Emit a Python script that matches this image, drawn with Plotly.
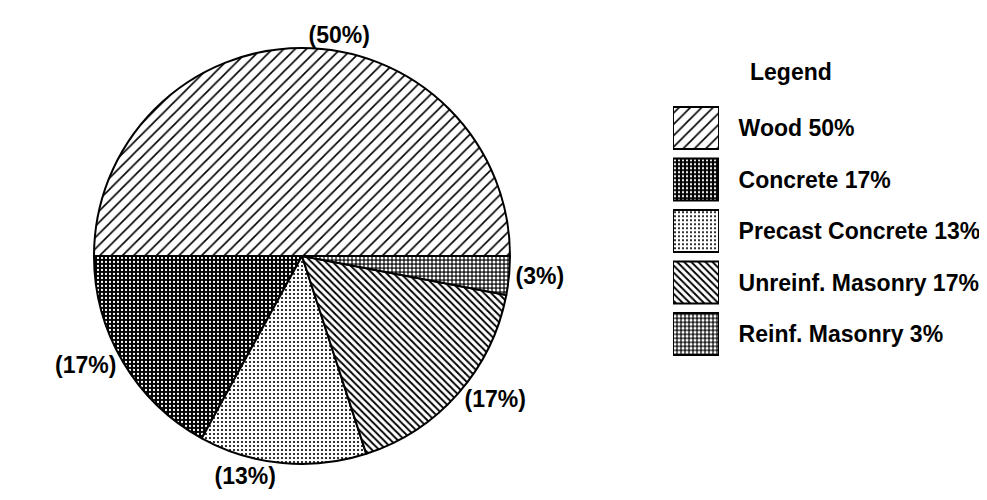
import plotly.graph_objects as go

# ---- data ----
categories = ["Wood", "Concrete", "Precast Concrete", "Unreinf. Masonry", "Reinf. Masonry"]
shares = [50, 17, 13, 17, 3]
legend_labels = [f"{c} {v}%" for c, v in zip(categories, shares)]

# ---- styles (hatch patterns) ----
pat_shape = ["/", ".", ".", "\\", "."]
pat_fg = ["black", "white", "black", "black", "white"]
pat_bg = ["white", "black", "white", "white", "#222222"]
pat_size = [8, 4, 4, 5, 4]
pat_solid = [0.2, 0.25, 0.22, 0.38, 0.45]

FONT = "Liberation Sans, Arial, sans-serif"

fig = go.Figure()

fig.add_trace(go.Pie(
    labels=categories,
    values=shares,
    sort=False,
    direction="counterclockwise",
    rotation=-90,
    textposition="outside",
    texttemplate="<b>(%{percent:.0%})</b>",
    textfont=dict(family=FONT, size=23, color="black"),
    marker=dict(
        colors=["white"] * len(categories),
        line=dict(color="black", width=2),
        pattern=dict(shape=pat_shape, fgcolor=pat_fg, bgcolor=pat_bg,
                     size=pat_size, solidity=pat_solid, fillmode="replace"),
    ),
    domain=dict(x=[86 / 987, 502 / 987], y=[0, 1]),
    showlegend=False,
    hoverinfo="label+percent",
))

# legend drawn as patterned boxes
fig.add_trace(go.Bar(
    x=[1] * len(categories),
    y=legend_labels,
    orientation="h",
    xaxis="x2",
    yaxis="y2",
    marker=dict(
        color="white",
        line=dict(color="black", width=2),
        pattern=dict(shape=pat_shape, fgcolor=pat_fg, bgcolor=pat_bg,
                     size=pat_size, solidity=pat_solid, fillmode="replace"),
    ),
    showlegend=False,
    hoverinfo="y",
))

fig.update_layout(
    width=987,
    height=500,
    margin=dict(l=0, r=0, t=40, b=44),
    paper_bgcolor="white",
    plot_bgcolor="white",
    bargap=0.18,
    xaxis2=dict(domain=[665 / 987, 711 / 987], range=[0, 1], visible=False,
                anchor="y2", fixedrange=True),
    yaxis2=dict(domain=[(456 - 351.75) / 416, (456 - 94.25) / 416],
                anchor="x2", side="right",
                categoryorder="array", categoryarray=legend_labels,
                range=[len(categories) - 0.5, -0.5],
                showgrid=False, zeroline=False, showline=False,
                ticks="outside", ticklen=14, tickcolor="rgba(0,0,0,0)",
                tickfont=dict(family=FONT, size=23, color="black", weight="bold"),
                fixedrange=True),
    annotations=[dict(
        text="<b>Legend</b>", x=783 / 987, y=(456 - 64) / 416,
        xref="paper", yref="paper", xanchor="center", yanchor="middle",
        showarrow=False, font=dict(family=FONT, size=23, color="black"),
    )],
)

fig.write_html("out.html")
